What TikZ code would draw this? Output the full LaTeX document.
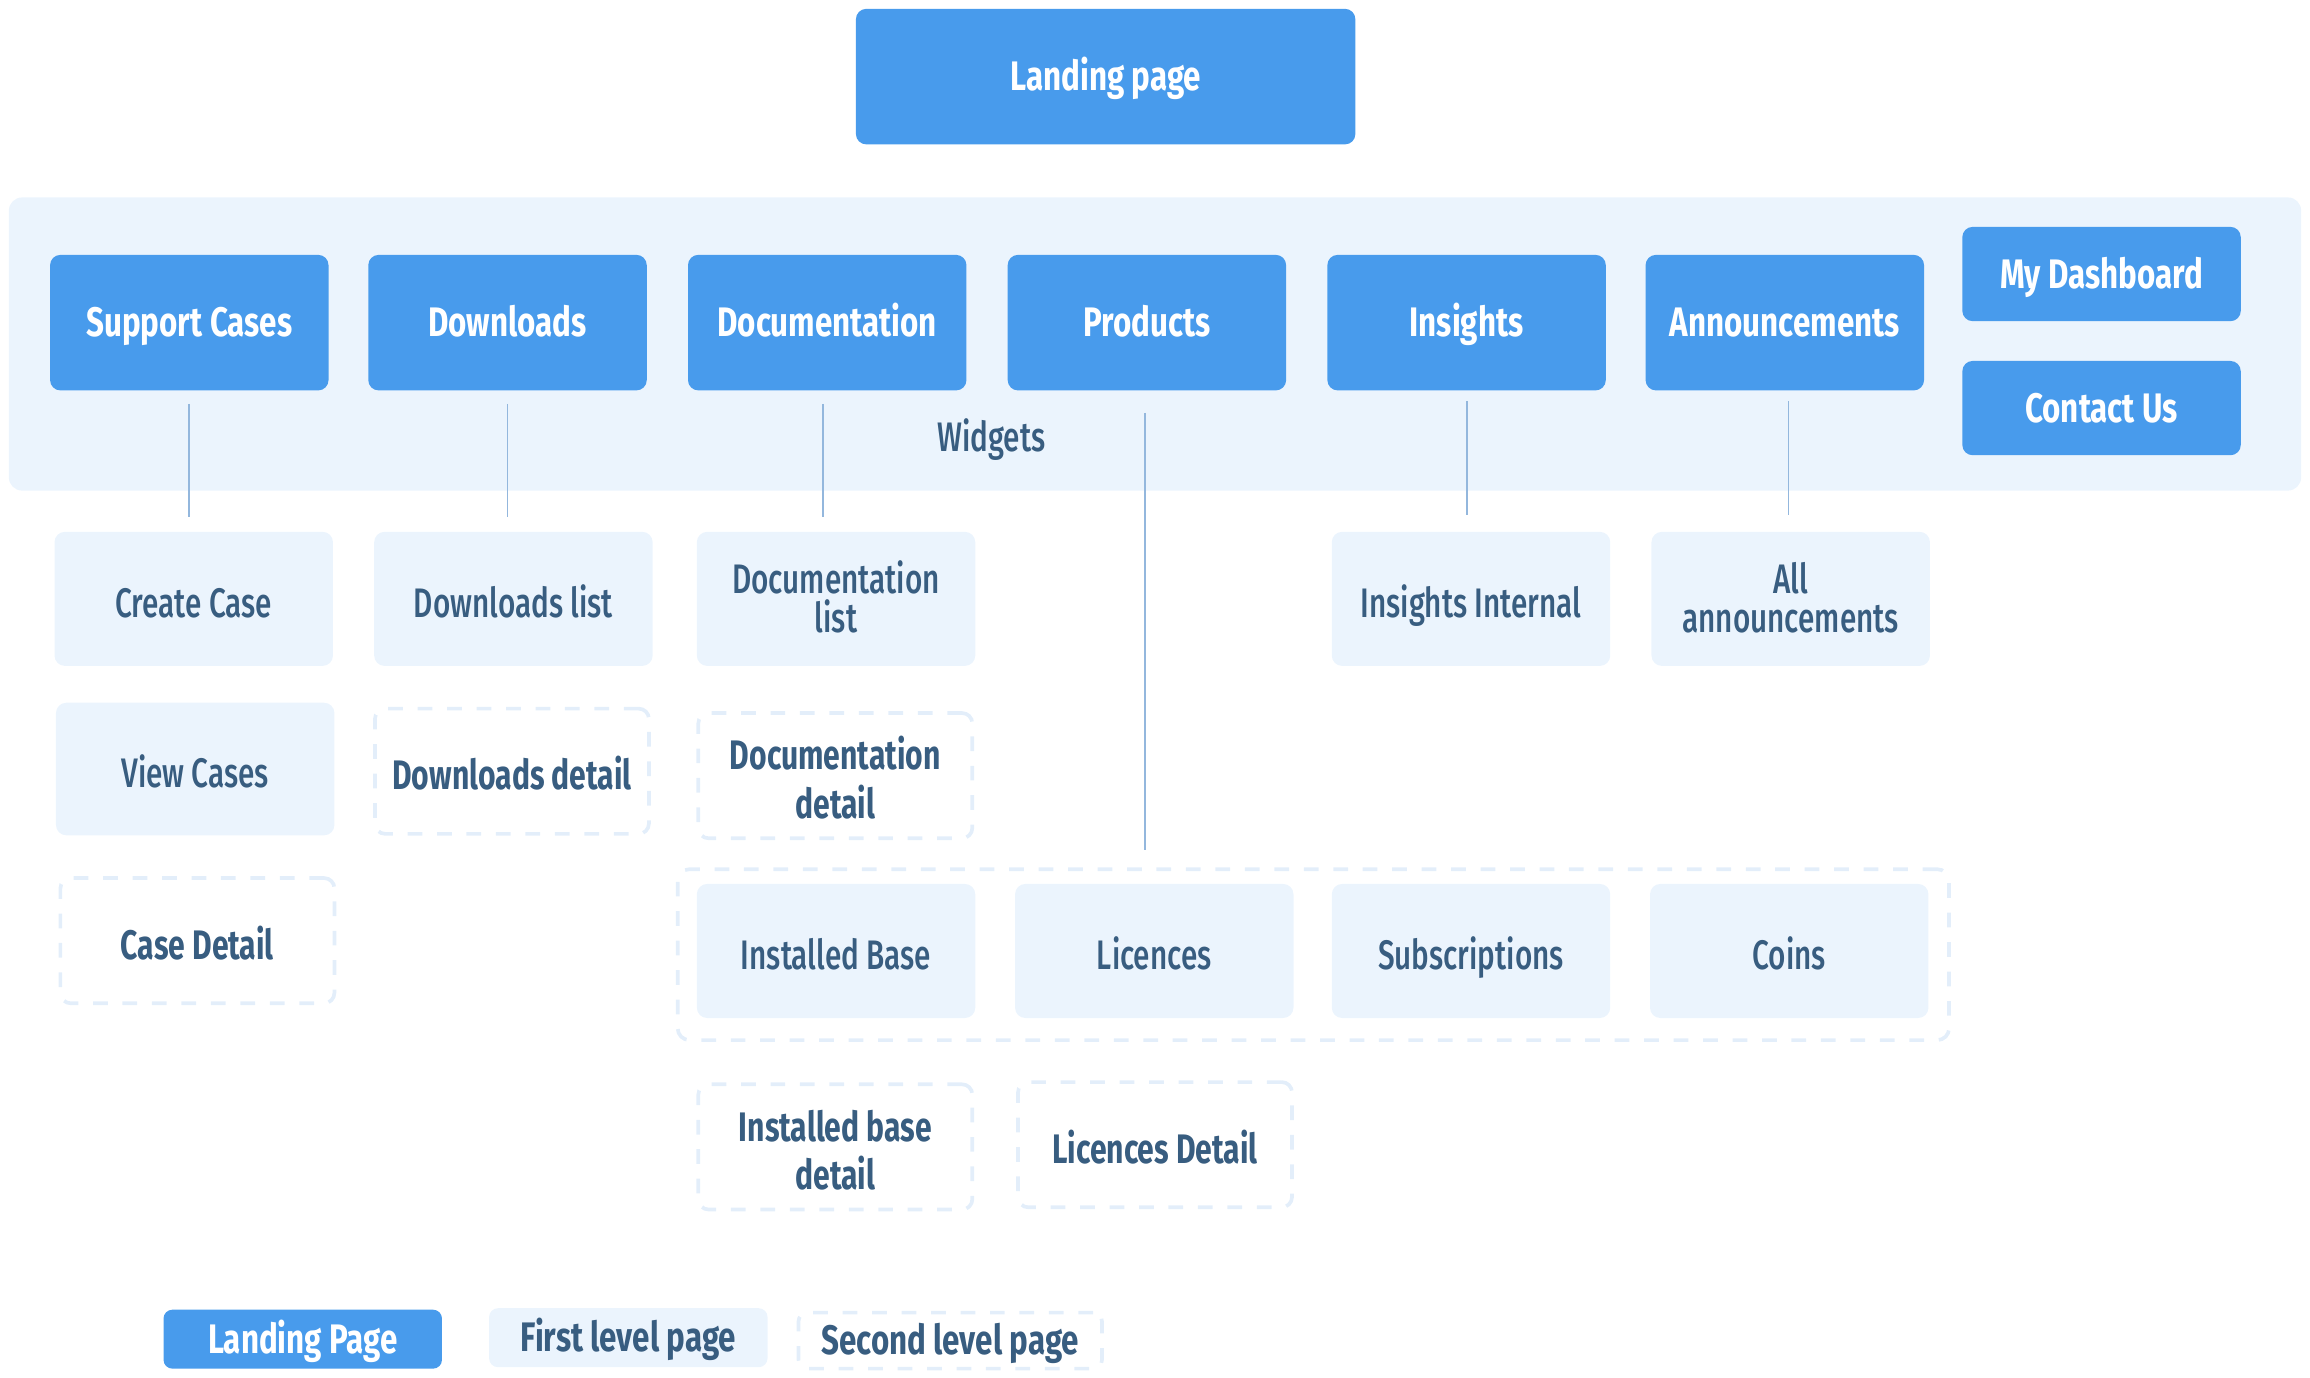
\documentclass[tikz,border=0pt]{standalone}
\usepackage{fontspec}
\setmainfont{Fira Sans}[FakeStretch=0.76]
\newfontfamily\fmed{Fira Sans Medium}[FakeStretch=0.72]
\newfontfamily\fsec{Fira Sans}[FakeStretch=0.73]
\definecolor{bluef}{HTML}{489BEC}
\definecolor{lightf}{HTML}{EBF4FD}
\definecolor{darkt}{HTML}{385D80}
\definecolor{connc}{HTML}{93B7DD}
\definecolor{dashc}{HTML}{E3EEFA}
\newcommand\topstrut{\rule{0pt}{26.3pt}}
\newcommand\lowstrut{\rule{0pt}{32.3pt}}
\newcommand\depstrut{\rule[-7pt]{0pt}{7pt}}
\begin{document}
\begin{tikzpicture}[x=1pt,y=-1pt,
  base/.style={inner sep=0pt, align=center, rounded corners=7pt, minimum width=189pt, minimum height=92pt},
  toptext/.style={execute at begin node=\topstrut, execute at end node=\depstrut},
  lowtext/.style={execute at begin node=\lowstrut, execute at end node=\depstrut},
  bluefill/.style={base, fill=bluef, text=white, font=\bfseries\fontsize{28}{30}\selectfont},
  lightfill/.style={base, fill=lightf, text=darkt, font=\fmed\fontsize{28}{27}\selectfont},
  dashbox/.style={base, draw=dashc, line width=2.5pt, dash pattern=on 10pt off 10pt, text=darkt, font=\fsec\bfseries\fontsize{28}{33}\selectfont, minimum width=186pt, minimum height=85pt},
  topbox/.style={bluefill, toptext},
  firstbox/.style={lightfill, lowtext},
  secondbox/.style={dashbox, lowtext},
  legsize/.style={minimum height=40pt, rounded corners=6pt, font=\bfseries\fontsize{28}{30}\selectfont},
  conn/.style={draw=connc, line width=1.3pt}
]
\useasboundingbox (0,0) rectangle (1568,935);
% landing
\node[topbox, minimum width=339pt, minimum height=92pt] (land) at (750.5,52) {Landing page};
% widgets panel
\node[fill=lightf, rounded corners=9pt, minimum width=1556pt, minimum height=199pt, inner sep=0pt] (panel) at (784,233.5) {};
\node[text=darkt, font=\fmed\fontsize{28}{30}\selectfont, inner sep=0pt, toptext] (widg) at (673,297) {Widgets};
% top row
\node[topbox] (sc) at (128.5,219) {Support Cases};
\node[topbox] (dl) at (344.5,219) {Downloads};
\node[topbox] (doc) at (561.5,219) {Documentation};
\node[topbox] (prod) at (778.5,219) {Products};
\node[topbox] (ins) at (995.5,219) {Insights};
\node[topbox] (ann) at (1211.5,219) {Announcements};
\node[topbox, minimum height=64pt] (dash) at (1426.5,186) {My Dashboard};
\node[topbox, minimum height=64pt] (cont) at (1426.5,277) {Contact Us};
% first level row
\node[firstbox, minimum height=91pt] (cc) at (131.5,406.5) {Create Case};
\node[firstbox, minimum height=91pt] (dlist) at (348.5,406.5) {Downloads list};
\node[lightfill, minimum height=91pt] (doclist) at (567.5,406.5) {\topstrut Documentation\\list\depstrut};
\node[firstbox, minimum height=91pt] (insint) at (998.5,406.5) {Insights Internal};
\node[lightfill, minimum height=91pt] (allann) at (1215.5,406.5) {\topstrut All\\announcements\depstrut};
\node[firstbox, minimum height=90pt] (vc) at (132.5,522) {View Cases};
% second level
\node[secondbox] (dldet) at (347.5,523.5) {Downloads detail};
\node[dashbox] (docdet) at (567,526.5) {\lowstrut Documentation\\detail\depstrut};
\node[secondbox] (casedet) at (134,638.5) {Case Detail};
% products group
\node[draw=dashc, line width=2.5pt, dash pattern=on 10pt off 10pt, rounded corners=8pt, minimum width=863pt, minimum height=116pt, inner sep=0pt] (grp) at (891.5,648) {};
\node[firstbox, minimum height=91pt] (ib) at (567.5,645.5) {Installed Base};
\node[firstbox, minimum height=91pt] (lic) at (783.5,645.5) {Licences};
\node[firstbox, minimum height=91pt] (sub) at (998.5,645.5) {Subscriptions};
\node[firstbox, minimum height=91pt] (coin) at (1214.5,645.5) {Coins};
\node[dashbox] (ibdet) at (567,778.5) {\lowstrut Installed base\\detail\depstrut};
\node[secondbox] (licdet) at (784,777) {Licences Detail};
% connectors
\draw[conn, shorten <=9pt, shorten >=10pt] (sc.south) -- (sc.south |- cc.north);
\draw[conn, shorten <=9pt, shorten >=10pt] (dl.south) -- (dl.south |- dlist.north);
\draw[conn, shorten <=9pt, shorten >=10pt] ([xshift=-3pt]doc.south) -- ([xshift=-3pt]doc.south |- doclist.north);
\draw[conn, shorten <=15pt, shorten >=12pt] ([xshift=-1.5pt]prod.south) -- ([xshift=-1.5pt]prod.south |- grp.north);
\draw[conn, shorten <=7pt, shorten >=11pt] (ins.south) -- (ins.south |- insint.north);
\draw[conn, shorten <=7pt, shorten >=11pt] ([xshift=2.5pt]ann.south) -- ([xshift=2.5pt]ann.south |- allann.north);
% legend
\node[bluefill, toptext, legsize] (lgl) at (205.5,909) {Landing Page};
\node[lightfill, toptext, legsize] (lgf) at (426.5,908) {First level page};
\node[dashbox, toptext, legsize, minimum width=206pt, minimum height=38pt] (lgs) at (645,910) {Second level page};
\end{tikzpicture}
\end{document}
